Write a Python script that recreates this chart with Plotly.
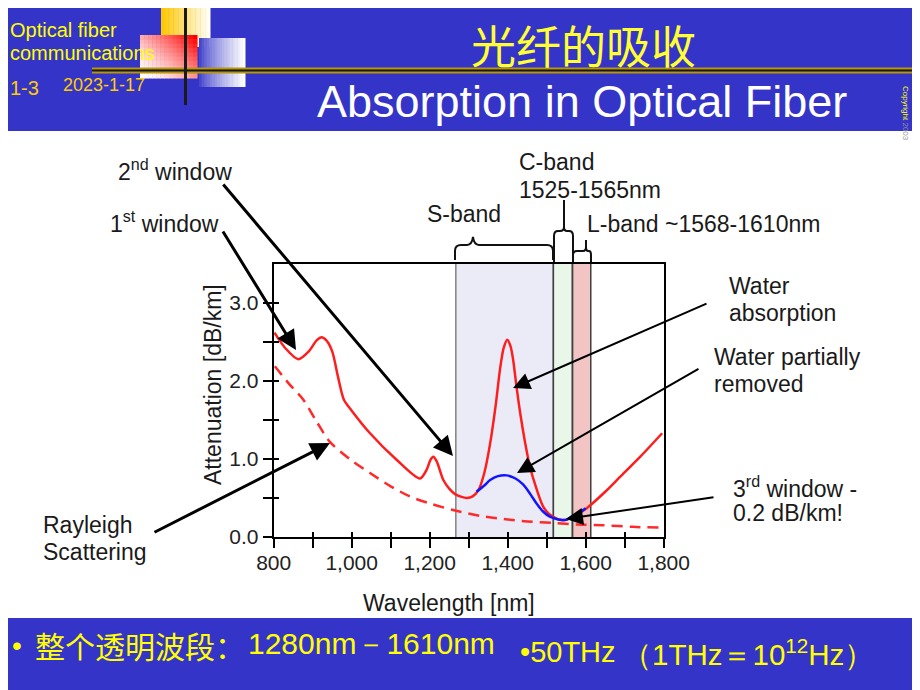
import plotly.graph_objects as go

W, H = 920, 690
# the page shows the figure 8 px in from the top-left corner, so layout
# positions (given in page pixels) are converted with that offset
OX, OY = 8, 8


def px(x):
    return (x - OX) / W


def py(y):
    return 1 - (y - OY) / H


# ---------------- data ----------------
wl_total = [802, 830, 863, 890, 910, 923, 935, 950, 965, 980, 1000, 1047, 1115, 1175, 1192,
            1202, 1209, 1218, 1235, 1250, 1265, 1295, 1310, 1325, 1340, 1355, 1370, 1380,
            1390, 1399, 1407, 1414, 1422, 1432, 1445, 1457, 1475, 1491, 1505, 1517, 1534,
            1550, 1560, 1580, 1603, 1650, 1688, 1740, 1796]
att_total = [2.62, 2.42, 2.28, 2.38, 2.52, 2.56, 2.52, 2.38, 2.05, 1.76, 1.62, 1.33, 0.99, 0.75,
             0.86, 0.99, 1.03, 0.97, 0.73, 0.62, 0.55, 0.50, 0.52, 0.60, 0.82, 1.20, 1.72, 2.14,
             2.43, 2.53, 2.45, 2.27, 1.95, 1.59, 1.20, 0.90, 0.60, 0.39, 0.30, 0.26, 0.22,
             0.22, 0.24, 0.29, 0.37, 0.58, 0.77, 1.03, 1.33]

wl_partial = [1320, 1340, 1355, 1375, 1397, 1420, 1440, 1458, 1474, 1490, 1508, 1525, 1534,
              1550, 1560, 1580, 1600]
att_partial = [0.58, 0.66, 0.73, 0.78, 0.79, 0.75, 0.67, 0.55, 0.43, 0.33, 0.26, 0.23, 0.22,
               0.22, 0.25, 0.30, 0.37]

wl_rayleigh = [803, 840, 876, 910, 944, 1000, 1047, 1100, 1149, 1200, 1265, 1330, 1389, 1450,
               1517, 1580, 1645, 1720, 1790]
att_rayleigh = [2.19, 1.96, 1.76, 1.48, 1.22, 0.98, 0.82, 0.65, 0.52, 0.43, 0.34, 0.27, 0.23,
                0.20, 0.18, 0.16, 0.15, 0.13, 0.12]

band_names = ["S-band", "C-band", "L-band"]
band_start = [1267, 1517, 1566]
band_end = [1517, 1566, 1613]

x_tick_vals = [800, 900, 1000, 1100, 1200, 1300, 1400, 1500, 1600, 1700, 1800]
x_tick_text = ["800", "", "1,000", "", "1,200", "", "1,400", "", "1,600", "", "1,800"]
y_tick_vals = [0, 0.5, 1.0, 1.5, 2.0, 2.5, 3.0]
y_tick_text = ["0.0", "", "1.0", "", "2.0", "", "3.0"]

# ---------------- styles ----------------
FONT = "Liberation Sans, Arial, sans-serif"
CJK = "Noto Sans CJK SC, sans-serif"
BLUE_BG = "#3434C8"
band_fill = ["#EBEBF8", "#E9F7E9", "#F2C4C4"]
band_line = ["#808080", "#404040", "#404040"]

fig = go.Figure()

fig.add_trace(go.Scatter(x=wl_rayleigh, y=att_rayleigh, mode="lines", hoverinfo="skip",
                         line=dict(color="#FF2A2A", width=2.5, dash="11px,7px",
                                   shape="spline", smoothing=0.8)))
fig.add_trace(go.Scatter(x=wl_total, y=att_total, mode="lines", hoverinfo="skip",
                         line=dict(color="#FF1E1E", width=2.5, shape="spline", smoothing=0.8)))
fig.add_trace(go.Scatter(x=wl_partial, y=att_partial, mode="lines", hoverinfo="skip",
                         line=dict(color="#1414FF", width=2.5, shape="spline", smoothing=0.8)))
fig.add_trace(go.Scatter(x=[None], y=[None], xaxis="x2", yaxis="y2", showlegend=False,
                         hoverinfo="skip"))

shapes = []

# slide background bands
shapes.append(dict(type="rect", xref="paper", yref="paper", x0=0, x1=1, y0=py(131), y1=1,
                   fillcolor=BLUE_BG, line=dict(width=0), layer="below"))
shapes.append(dict(type="rect", xref="paper", yref="paper", x0=0, x1=1, y0=0, y1=py(618),
                   fillcolor=BLUE_BG, line=dict(width=0), layer="below"))

# spectral bands
for s, e, f in zip(band_start, band_end, band_fill):
    shapes.append(dict(type="rect", xref="x", yref="y", x0=s, x1=e, y0=0, y1=3.5,
                       fillcolor=f, line=dict(width=0), layer="below"))
for s, e, lc in zip(band_start, band_end, band_line):
    for xv in (s, e):
        shapes.append(dict(type="line", xref="x", yref="y", x0=xv, x1=xv, y0=0, y1=3.5,
                           line=dict(color=lc, width=1.5), layer="below"))


def mix(c0, c1, t):
    t = max(0.0, min(1.0, t))
    return "#%02x%02x%02x" % tuple(round(a + (b - a) * t) for a, b in zip(c0, c1))


def rect(x0, x1, y0, y1, color):
    return dict(type="rect", xref="paper", yref="paper", x0=px(x0), x1=px(x1),
                y0=py(y1), y1=py(y0), fillcolor=color, line=dict(width=0))


# header decoration: yellow block
n = 20
for i in range(n):
    x0 = 161 + (210 - 161) * i / n
    x1 = 161 + (210 - 161) * (i + 1) / n + 0.5
    shapes.append(rect(x0, x1, 8, 47, mix((255, 200, 0), (255, 255, 245), i / (n - 1))))
# red square (diagonal gradient)
nx, ny = 14, 10
for i in range(nx):
    for j in range(ny):
        x0 = 140 + 57 * i / nx
        x1 = 140 + 57 * (i + 1) / nx + 0.5
        y0 = 35 + 43 * j / ny
        y1 = 35 + 43 * (j + 1) / ny + 0.5
        t = 0.55 * (i / (nx - 1)) + 0.45 * (1 - j / (ny - 1))
        shapes.append(rect(x0, x1, y0, y1, mix((255, 255, 255), (255, 0, 0), t ** 1.4)))
# blue square
n = 18
for i in range(n):
    x0 = 199 + 46 * i / n
    x1 = 199 + 46 * (i + 1) / n + 0.5
    shapes.append(rect(x0, x1, 38, 87, mix((70, 70, 205), (255, 255, 255), (i / (n - 1)) ** 0.8)))
# horizontal rule (gold edged black)
shapes.append(rect(92, 930, 67.5, 73.5, "#B8960A"))
shapes.append(rect(92, 930, 69.5, 71.5, "#141414"))
# vertical rule
shapes.append(rect(184, 187, 8, 105, "#1A1A1A"))


def pth(segs):
    s = ""
    for cmd, pts in segs:
        s += cmd + " ".join(f"{px(x):.5f},{py(y):.5f}" for x, y in pts) + " "
    return s.strip()


brace_style = dict(type="path", xref="paper", yref="paper", line=dict(color="#111", width=2),
                   fillcolor="rgba(0,0,0,0)")
shapes.append(dict(brace_style, path=pth([
    ("M", [(455, 260)]), ("L", [(455, 251)]), ("Q", [(455, 245), (461, 245)]),
    ("L", [(467, 245)]), ("Q", [(472, 245), (473, 237)]), ("Q", [(474, 245), (479, 245)]),
    ("L", [(547, 245)]), ("Q", [(553, 245), (553, 251)]), ("L", [(553, 260)])])))
shapes.append(dict(brace_style, path=pth([
    ("M", [(554, 262)]), ("L", [(554, 236)]), ("Q", [(554, 231), (558, 231)]),
    ("L", [(560, 231)]), ("Q", [(564, 231), (564, 227)]), ("L", [(564, 200)]),
    ("M", [(564, 227)]), ("Q", [(564, 231), (567, 231)]), ("L", [(569, 231)]),
    ("Q", [(573, 231), (573, 236)]), ("L", [(573, 262)])])))
shapes.append(dict(brace_style, path=pth([
    ("M", [(573, 262)]), ("L", [(573, 255)]), ("Q", [(573, 251), (577, 251)]),
    ("L", [(583, 251)]), ("Q", [(586, 251), (586, 247)]), ("L", [(586, 240)]),
    ("M", [(586, 247)]), ("Q", [(586, 251), (588, 251)]), ("L", [(589, 251)]),
    ("Q", [(591, 251), (591, 255)]), ("L", [(591, 262)])])))

ann = []


def text(x, y, s, size=23, color="#1A1A1A", family=FONT, xanchor="left", angle=0):
    ann.append(dict(x=px(x), y=py(y), xref="paper", yref="paper", text=s, showarrow=False,
                    xanchor=xanchor, yanchor="middle", textangle=angle,
                    font=dict(size=size, color=color, family=family)))


# header texts
text(8, 30, "Optical fiber", size=20, color="#FFFF00")
text(8, 53, "communications", size=20, color="#FFFF00")
text(8, 88, "1-3", size=20, color="#FFCC00")
text(61, 85, "2023-1-17", size=18, color="#FFCC00")
text(583, 44, "光纤的吸收", size=45, color="#FFFF33", family=CJK, xanchor="center")
text(582, 101, "Absorption in Optical Fiber", size=45, color="#FFFFFF", xanchor="center")
text(906, 113, "Copyright <span style='color:#999999'>2003</span>", size=8, color="#FFFF00",
     xanchor="center", angle=90)

# chart labels
text(116, 170, "2<sup>nd</sup> window")
text(108, 222, "1<sup>st</sup> window")
text(425, 214, "S-band")
text(517, 162, "C-band")
text(517, 190, "1525-1565nm")
text(585, 224, "L-band ~1568-1610nm")
text(727, 286, "Water")
text(727, 313, "absorption")
text(712, 357, "Water partially")
text(712, 384, "removed")
text(731, 487, "3<sup>rd</sup> window -")
text(731, 513, "0.2 dB/km!")
text(41, 525, "Rayleigh")
text(41, 552, "Scattering")
text(449, 603, "Wavelength [nm]", xanchor="center")
text(213, 385, "Attenuation [dB/km]", xanchor="center", angle=-90)

# footer texts
text(10, 645, "•", size=28, color="#FFFF00")
text(33, 645, "整个透明波段：", size=30, color="#FFFF00", family=CJK)
text(246, 643, "1280nm－1610nm", size=30, color="#FFFF00")
text(518, 652, "•50THz", size=29, color="#FFFF00")
text(620, 652, "（1THz＝10<sup>12</sup>Hz）", size=29.5, color="#FFFF00")

# arrows: (head, tail, width)
arrows = [((453, 456), (222, 183), 3), ((296, 350), (222, 230), 3), ((330, 443), (153, 533), 3),
          ((513, 388), (708, 303), 2), ((517, 473), (700, 368), 2), ((566, 519), (715, 497), 2)]
for (hx, hy), (tx, ty), w in arrows:
    ann.append(dict(x=px(hx), y=py(hy), xref="paper", yref="paper", text="", showarrow=True,
                    ax=tx - hx, ay=ty - hy, axref="pixel", ayref="pixel", arrowhead=2,
                    arrowsize=1.3 if w == 3 else 1.7, arrowwidth=w, arrowcolor="#000000",
                    standoff=0, startstandoff=0))

axis_common = dict(showgrid=False, zeroline=False, showline=True, linecolor="#000000",
                   linewidth=2, mirror=True, ticks="outside", ticklen=9, tickwidth=2,
                   tickcolor="#000000", tickmode="array", automargin=False,
                   tickfont=dict(size=21, color="#222222", family=FONT))

fig.update_layout(
    width=W, height=H, margin=dict(l=0, r=0, t=0, b=0, pad=0), autosize=False,
    paper_bgcolor="#FFFFFF", plot_bgcolor="#FFFFFF", showlegend=False,
    xaxis=dict(axis_common, domain=[px(273.7), px(663.7)], range=[800, 1800],
               tickvals=x_tick_vals, ticktext=x_tick_text, ticklabelstandoff=-3),
    yaxis=dict(axis_common, domain=[py(537), py(264)], range=[0, 3.5],
               tickvals=y_tick_vals, ticktext=y_tick_text),
    xaxis2=dict(overlaying="x", anchor="y", range=[800, 1800], showgrid=False, zeroline=False,
                showline=False, ticks="inside", ticklen=5, tickwidth=2, tickcolor="#000000",
                tickmode="array", tickvals=x_tick_vals, showticklabels=False, side="bottom",
                automargin=False),
    yaxis2=dict(overlaying="y", anchor="x", range=[0, 3.5], showgrid=False, zeroline=False,
                showline=False, ticks="inside", ticklen=5, tickwidth=2, tickcolor="#000000",
                tickmode="array", tickvals=y_tick_vals, showticklabels=False, side="left",
                automargin=False),
    shapes=shapes, annotations=ann, hovermode=False,
)

fig.write_html("out.html")
